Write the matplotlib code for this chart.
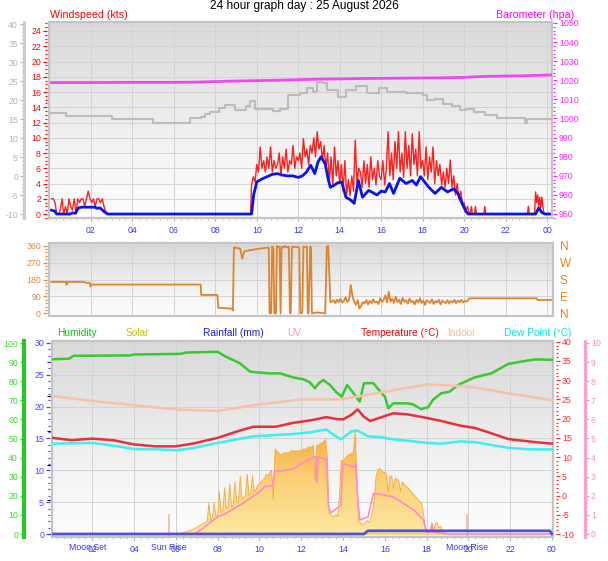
import numpy as np
import matplotlib
matplotlib.use("Agg")
import matplotlib.pyplot as plt
from matplotlib.colors import LinearSegmentedColormap
from matplotlib.patches import Rectangle, Polygon
from matplotlib.ticker import MultipleLocator

plt.rcParams['font.family'] = ['Liberation Sans', 'DejaVu Sans']
plt.rcParams['axes.unicode_minus'] = False

W, H = 608, 561
PT = 0.72  # points per pixel at 100 dpi

# ---------------- data (hours since midnight) ----------------
gust_early = [2, 2, 1.5, 0, 0, 0.5, 2, 0, 1, 0, 2, 1, 0.5, 2, 0, 2, 1.5, 2, 2, 1,
              2, 3, 2, 1.5, 2, 1, 2, 2, 1.5, 2, 1, 0.3, 0]
gust_day = [3.8, 4.9, 4.2,
            6.5, 5.5, 8.8, 6, 7, 5.5, 7.5, 6, 8.8, 5.5, 7, 6,
            6.5, 8, 5, 7.5, 6, 8.5, 5.5, 7, 6.5, 9, 6, 7.5,
            7, 8, 6, 9.9, 7.5, 8.5, 6.5, 9, 8, 10, 7.5, 10.8,
            8.5, 9.5, 7, 9, 6, 8, 4, 7.5, 3.8, 8.8, 5, 7,
            4, 6.5, 3, 7, 2.5, 4.5, 2.4, 5, 3, 9.7, 4, 6,
            5.5, 3.5, 7, 4, 6.5, 3.5, 7.5, 4.5, 6, 3.8, 7, 5,
            4.5, 7, 3.8, 6, 10.8, 5, 8, 4.5, 9.5, 6, 10.8, 5.5,
            8, 4.8, 10.8, 6, 9, 5, 10.5, 6.5, 8.5, 5, 10.8, 6,
            7, 5, 8.8, 4.5, 7.5, 5.5, 8.8, 4, 7, 5, 6.5, 3.8,
            5.5, 3.5, 6, 4, 7.1, 3.5, 5, 2.5, 4, 2, 3, 1.5,
            1.5, 0.5, 1, 0]
gust_tail_h = [20.3, 20.35, 20.4, 20.5, 20.55, 20.6, 20.95, 21.0, 21.05, 23.05, 23.1,
               23.15, 23.4, 23.45, 23.5, 23.55, 23.6, 23.65, 23.7, 23.75, 23.8, 23.85, 24.2]
gust_tail = [0, 1, 0, 0, 1, 0, 0, 1, 0, 0, 1, 0, 0, 2.9, 1.5, 2.5, 1.0, 2.2, 0.8, 2.2, 1.0, 0, 0]

avg_h = [0.1, 0.25, 0.35, 1.0, 1.1, 1.25, 1.4, 1.55, 2.2, 2.3, 2.45, 2.6, 2.8, 9.75, 9.85,
         10.0, 10.25, 10.5, 10.75, 11.0, 11.25, 11.5, 11.75, 12.0, 12.2, 12.4, 12.6, 12.8,
         12.95, 13.1, 13.3, 13.45, 13.55, 13.75, 13.9, 14.1, 14.3, 14.5, 14.7, 14.9, 15.1,
         15.4, 15.6, 15.8, 16.0, 16.2, 16.4, 16.6, 16.9, 17.2, 17.5, 17.7, 17.9, 18.1, 18.3,
         18.6, 18.9, 19.2, 19.5, 19.7, 19.9, 20.1, 20.2, 23.45, 23.6, 23.75, 23.9, 24.2]
avg_kts = [0.5, 0.4, 0, 0, 0.15, 0.1, 0.8, 0.9, 0.9, 0.75, 0.8, 0.4, 0, 0, 2.5,
           4.2, 4.6, 4.9, 5.2, 5.3, 5.1, 5.0, 5.0, 4.8, 5.0, 5.5, 6.4, 5.3,
           6.8, 7.5, 6.6, 4.5, 3.5, 3.8, 4.1, 4.2, 2.2, 1.9, 1.4, 4.4, 2.2,
           3.1, 2.8, 2.5, 3.0, 2.9, 4.0, 2.7, 4.7, 4.0, 4.4, 3.8, 4.9, 4.2, 3.5,
           2.7, 3.5, 2.9, 3.3, 2.7, 1.4, 0.3, 0, 0, 0.8, 0.2, 0, 0]

baro_h = [0.1, 2, 4, 6, 7, 8, 9, 10, 11, 12, 13, 14, 15, 16, 17, 18, 19, 20, 20.5, 21, 22, 23, 24.2]
baro_hpa = [1018.8, 1018.8, 1018.9, 1018.9, 1019.0, 1019.3, 1019.6, 1019.8, 1020.0, 1020.3,
            1020.6, 1020.7, 1020.9, 1021.0, 1021.1, 1021.2, 1021.3, 1021.5, 1021.8, 1022.0,
            1022.2, 1022.4, 1022.8]

grey_h = [0.1, 0.8, 3.0, 5.0, 6.8, 7.3, 7.5, 7.75, 8.2, 8.47, 8.95, 9.5, 9.67, 9.9, 10.8,
          11.1, 11.5, 12.1, 12.4, 12.7, 12.9, 13.2, 13.4, 13.9, 14.3, 14.8, 15.3, 15.9,
          16.3, 17.2, 18.0, 18.2, 18.6, 19.0, 19.4, 19.8, 20.1, 20.5, 21.0, 21.6, 22.95,
          23.05, 24.2]
grey_v = [16.7, 15.8, 15.0, 14.0, 15.3, 15.6, 16.2, 16.9, 17.8, 18.7, 17.4, 18.5, 19.8, 17.6,
          17.2, 17.6, 21.3, 21.8, 23.1, 22.0, 24.8, 24.6, 22.6, 20.9, 22.6, 23.7, 21.8, 23.1,
          22.0, 21.8, 21.3, 20.0, 20.2, 18.9, 18.4, 17.4, 17.7, 16.9, 16.0, 15.2, 14.0,
          15.0, 15.0]

# wind direction (degrees)
dir_early_h = [0.1, 0.8, 0.83, 0.88, 1.7, 1.75, 1.95, 1.98, 2.05, 7.3, 7.32, 8.1, 8.15,
               8.8, 8.85, 8.9, 9.2, 9.3, 9.4, 9.8, 10.2, 10.55]
dir_early = [167, 167, 152, 167, 167, 162, 162, 143, 153, 153, 98, 98, 30,
             25, 15, 350, 345, 290, 330, 338, 345, 350]
dir_osc_h = [10.58, 10.62, 10.7, 10.74, 10.8, 10.85, 10.93, 10.97, 11.1, 11.15, 11.2, 11.3,
             11.35, 11.45, 11.55, 11.6, 11.64, 11.7, 11.9, 12.05, 12.1, 12.2, 12.25, 12.3,
             12.42, 12.46, 12.5, 12.58, 12.62, 12.66, 12.9, 13.3, 13.38, 13.45, 13.55]
dir_osc = [350, 0, 2, 355, 350, 0, 0, 358, 352, 0, 355, 350,
           358, 350, 355, 0, 2, 355, 352, 350, 0, 3, 355, 352,
           355, 0, 0, 355, 350, 0, 5, 0, 355, 358, 60]
dir_pm = [62, 70, 55, 72, 60, 78, 58, 66, 85, 60, 72, 150,
          90, 62, 45, 70, 25, 40, 60, 52, 70, 48, 66, 55,
          75, 58, 62, 50, 80, 60, 72, 95, 58, 115, 62, 78,
          55, 88, 60, 72, 50, 82, 62, 70, 52, 78, 60, 66,
          48, 72, 58, 80, 55, 68, 45, 70, 62, 56, 74, 50,
          66, 58, 72, 48, 68, 60, 55, 70, 52, 66, 58, 72,
          55, 68, 60, 72, 58, 66, 62, 70]
dir_tail_h = [20.25, 23.5, 23.55, 24.3]
dir_tail = [80, 80, 71, 71]

# lower panel
hum_h = [0.1, 0.9, 1.1, 3.8, 4.0, 6.2, 6.5, 8.0, 8.4, 9.07, 9.55, 10.0, 10.5, 11.0, 11.6,
         12.1, 12.4, 12.66, 12.85, 13.06, 13.38, 13.7, 13.94, 14.2, 14.5, 14.8, 15.0, 15.45,
         15.85, 16.0, 16.17, 16.4, 17.1, 17.36, 17.75, 17.84, 18.07, 18.3, 18.7, 19.1, 19.5,
         20.3, 21.1, 21.9, 22.5, 23.2, 24.0]
hum_pct = [91.5, 91.8, 93.3, 93.5, 94.0, 94.3, 95.0, 95.4, 92.8, 89.4, 85.0, 84.5, 84.1, 84.1,
           82.0, 81.0, 79.5, 76.3, 79.0, 80.6, 78.0, 74.0, 71.9, 78.0, 73.7, 69.3, 78.9, 79.0,
           73.7, 72.0, 65.8, 68.4, 68.4, 67.8, 65.3, 65.8, 66.3, 70.2, 73.7, 74.5, 78.0,
           82.0, 84.1, 89.0, 90.2, 91.4, 91.2]

temp_h = [0.1, 1.0, 2.0, 3.0, 4.0, 5.0, 6.0, 6.8, 8.0, 9.0, 9.7, 10.8, 11.6, 12.5, 13.2, 13.7,
          14.0, 14.4, 14.7, 15.0, 15.3, 15.8, 16.4, 17.1, 18.0, 18.7, 19.6, 20.3, 21.1, 21.9,
          23.2, 24.0]
temp_c = [15.0, 14.4, 14.8, 14.4, 13.3, 12.8, 12.8, 13.5, 15.0, 16.8, 17.9, 17.9, 18.9, 19.6,
          20.4, 19.9, 19.8, 21.0, 22.4, 20.5, 19.4, 20.3, 21.4, 21.1, 20.2, 19.4, 18.2, 17.6,
          16.2, 14.7, 13.9, 13.5]

dew_h = [0.1, 2.0, 3.0, 4.0, 5.2, 6.0, 6.8, 8.0, 9.7, 11.6, 12.5, 13.2, 13.5, 13.9, 14.4, 14.7,
         15.2, 15.8, 16.4, 17.2, 18.0, 18.7, 19.6, 20.3, 21.9, 23.0, 24.0]
dew_c = [13.5, 13.7, 13.0, 12.1, 12.0, 11.8, 12.3, 13.7, 15.4, 16.0, 16.5, 17.2, 16.0, 14.6,
         16.7, 16.9, 15.4, 15.2, 14.6, 14.2, 13.7, 13.5, 14.1, 13.9, 12.4, 12.0, 12.0]

indoor_h = [0.1, 2.0, 4.0, 6.0, 8.0, 10.0, 12.0, 13.9, 15.8, 18.0, 19.6, 20.3, 21.9, 24.0]
indoor_c = [25.9, 24.6, 23.5, 22.4, 22.0, 23.7, 25.0, 25.0, 26.8, 28.9, 28.5, 28.1, 26.6, 24.8]

uv_h = [6.9, 7.3, 7.7, 8.0, 8.4, 8.8, 9.2, 9.6, 10.0, 10.3, 10.6, 10.75, 11.0, 11.6, 12.2,
        12.7, 12.75, 12.8, 13.2, 13.3, 13.4, 13.9, 14.0, 14.5, 14.6, 14.7, 14.8, 15.2, 15.45,
        15.7, 16.4, 17.4, 17.85, 18.0, 18.2, 18.25, 18.3, 19.0, 24.0]
uv_idx = [0, 0.3, 0.65, 0.9, 1.08, 1.35, 1.6, 1.9, 2.2, 2.5, 2.5, 3.3, 3.3, 3.4, 3.8,
          4.05, 2.7, 4.05, 3.9, 1.5, 1.1, 1.5, 3.7, 3.5, 3.7, 2.0, 0.73, 0.9, 2.1,
          2.1, 1.95, 1.25, 0.73, 0.1, 0.1, 0.5, 0.1, 0, 0]

# solar radiation (W/m2), 5 minute steps from 06:00 to 19:00
solar_w = [0, 0, 0, 7, 11, 14, 17, 21, 25, 28, 35, 42,
           49, 56, 63, 70, 77, 84, 91, 224, 98, 112, 224, 126,
           140, 308, 154, 168, 336, 182, 196, 364, 196, 210, 378, 224,
           238, 420, 252, 266, 280, 434, 280, 294, 420, 308, 322, 350,
           364, 378, 392, 406, 434, 420, 448, 462, 252, 616, 602, 588,
           574, 574, 588, 588, 588, 588, 602, 602, 602, 602, 602, 602,
           602, 616, 616, 616, 630, 630, 630, 644, 392, 644, 644, 658,
           658, 672, 686, 560, 154, 140, 126, 126, 140, 126, 280, 532,
           532, 546, 560, 574, 574, 588, 588, 742, 420, 84, 84, 70,
           70, 84, 98, 84, 112, 168, 252, 420, 462, 476, 462, 448,
           448, 434, 300, 420, 420, 330, 406, 392, 392, 310, 378, 364,
           350, 336, 322, 308, 294, 280, 266, 252, 238, 224, 168, 70,
           14, 28, 21, 84, 28, 70, 84, 42, 56, 28, 14, 7,
           0]

rain_h = [0.1, 15.0, 15.2, 23.9, 24.0]
rain_mm = [0, 0, 0.5, 0.5, 0]

events = {'Moon Set': 1.8, 'Sun Rise': 5.68, 'Moon Rise': 19.95}
hour_ticks = list(range(2, 25, 2))
hour_labels = [f'{h % 24:02d}' for h in hour_ticks]

gust_h = np.concatenate([np.linspace(0.1, 2.8, len(gust_early)), [9.7],
                         np.linspace(9.75, 20.25, len(gust_day)), gust_tail_h])
gust_kts = np.concatenate([gust_early, [0], gust_day, gust_tail])
dir_h = np.concatenate([dir_early_h, dir_osc_h, np.linspace(13.62, 20.2, len(dir_pm)), dir_tail_h])
dir_deg = np.concatenate([dir_early, dir_osc, dir_pm, dir_tail])
solar_h = np.linspace(6.0, 19.0, len(solar_w))

# ---------------- helpers ----------------
fig = plt.figure(figsize=(W / 100, H / 100), dpi=100)
fig.patch.set_facecolor('white')

bg_cmap = LinearSegmentedColormap.from_list('bg', ['#dadada', '#e2e2e2', '#ededed', '#f7f7f7', '#fdfdfd'])
sol_cmap = LinearSegmentedColormap.from_list('sol', ['#fde7a0', '#fbd27a', '#f6ae40'])
XCOL = '#3535ff'


def panel(l, t, r, b, xlim):
    ax = fig.add_axes([l / W, 1 - b / H, (r - l) / W, (b - t) / H])
    ax.imshow(np.linspace(0, 1, 256).reshape(-1, 1), cmap=bg_cmap, aspect='auto',
              extent=(0, 1, 0, 1), transform=ax.transAxes, zorder=0)
    ax.set_xlim(*xlim)
    for s in ax.spines.values():
        s.set_visible(False)
    ax.add_patch(Rectangle((0, 0), 1, 1, transform=ax.transAxes, fill=False,
                           ec='#c4c4c4', lw=1.6, zorder=6, clip_on=False))
    for h in hour_ticks:
        ax.axvline(h, color='#d2d2d2', lw=0.7, zorder=1)
    ax.tick_params(axis='y', which='both', left=False, labelleft=False)
    return ax


def yscale(ax, side, lim, major, minor, color, offset_px, spine=None):
    ax.set_ylim(*lim)
    for s in ax.spines.values():
        s.set_visible(False)
    sp = ax.spines[side]
    sp.set_position(('outward', offset_px * PT))
    if spine:
        sp.set_visible(True)
        sp.set_color(spine[0])
        sp.set_linewidth(spine[1])
    left = side == 'left'
    ax.tick_params(axis='y', which='both', left=left, labelleft=left,
                   right=not left, labelright=not left)
    ax.yaxis.set_major_locator(MultipleLocator(major))
    ax.yaxis.set_minor_locator(MultipleLocator(minor))
    ax.tick_params(axis='y', which='major', color=color, labelcolor=color, labelsize=6.3,
                   length=4 * PT, width=0.9, pad=2 * PT)
    ax.tick_params(axis='y', which='minor', color=color, length=2.5 * PT, width=0.9)


def xscale(ax):
    ax.set_xticks(hour_ticks, hour_labels)
    ax.xaxis.set_minor_locator(MultipleLocator(1 / 3))
    ax.tick_params(axis='x', which='major', length=2.5, color='#b0b0b0', labelcolor=XCOL,
                   labelsize=6.3, pad=3)
    ax.tick_params(axis='x', which='minor', length=1.3, color='#b8b8b8')


def hgrid(ax, fracs):
    for f in fracs:
        ax.plot([0, 1], [f, f], transform=ax.transAxes, color='#d4d4d4', lw=0.7, zorder=1)


# ---------------- top panel: wind & barometer ----------------
ax_w = panel(49, 22, 552, 218, (-0.02, 24.24))
yscale(ax_w, 'left', (-0.52, 25.18), 2, 0.5, '#ff0000', 2)
hgrid(ax_w, [(v + 0.52) / 25.7 for v in range(2, 25, 2)])
xscale(ax_w)
ax_w.plot(gust_h, gust_kts, color='#ff1e1e', lw=1.0, zorder=3)
ax_w.plot(avg_h, avg_kts, color='#0a14e6', lw=2.0, zorder=4)

ax_g = ax_w.twinx()
yscale(ax_g, 'left', (-11.05, 40.53), 5, 1, '#b4b4b4', 25, spine=('#c8c8c8', 2))
ax_g.plot(grey_h, grey_v, color='#bcbcbc', lw=1.5, drawstyle='steps-post')

ax_b = ax_w.twinx()
yscale(ax_b, 'right', (947.9, 1050.5), 10, 2, '#ff22ff', 1)
ax_b.plot(baro_h, baro_hpa, color='#f048f0', lw=2)

fig.text(304 / W, 1 - 6.5 / H, '24 hour graph day : 25 August 2026', ha='center', va='center',
         fontsize=8.6, color='black')
fig.text(50 / W, 1 - 14.5 / H, 'Windspeed (kts)', ha='left', va='center', fontsize=7.7, color='#ff0000')
fig.text(574 / W, 1 - 14.5 / H, 'Barometer (hpa)', ha='right', va='center', fontsize=7.7, color='#ff00ff')

# ---------------- middle panel: wind direction ----------------
ax_d = panel(49, 243, 553, 316, (-0.02, 24.29))
yscale(ax_d, 'left', (-14, 374), 90, 18, '#e0883a', 2)
hgrid(ax_d, [(v + 14) / 388 for v in (90, 180, 270, 360)])
ax_d.tick_params(axis='x', which='both', length=0, labelbottom=False)
ax_d.plot(dir_h, dir_deg, color='#dc8430', lw=1.3, zorder=3)

ax_c = ax_d.twinx()
ax_c.set_ylim(-14, 374)
ax_c.set_yticks([0, 90, 180, 270, 360], ['N', 'E', 'S', 'W', 'N'])
ax_c.tick_params(axis='y', length=0, labelsize=8.5, labelcolor='#e8801e', pad=5)
for s in ax_c.spines.values():
    s.set_visible(False)

# ---------------- bottom panel ----------------
ax_s = panel(51.5, 341, 553, 537, (0.05, 24.05))
hgrid(ax_s, [(v + 0.47) / 30.78 for v in range(5, 31, 5)])
xscale(ax_s)
im = ax_s.imshow(np.linspace(0, 1, 256).reshape(-1, 1), cmap=sol_cmap, origin='lower',
                 aspect='auto', extent=(5.9, 19.1, 0, 740), zorder=2)
poly = Polygon(np.column_stack([np.r_[solar_h[0], solar_h, solar_h[-1]],
                                np.r_[0, solar_w, 0]]), closed=True, fc='none', ec='none')
ax_s.add_patch(poly)
im.set_clip_path(poly)
ax_s.plot(solar_h, solar_w, color='#f4aa3c', lw=0.6, zorder=2)
ax_s.axhline(0, color='#f3d27a', lw=1.5, zorder=2)
ax_s.set_xlim(0.05, 24.05)
ax_s.set_ylim(-22, 1400)
for name, t in events.items():
    if name != 'Moon Set':
        ax_s.axvline(t, ymin=0, ymax=0.11, color='#f6b59a', lw=1.2, zorder=3)
    ax_s.text(t, -0.056, name, transform=ax_s.get_xaxis_transform(), ha='center', va='center',
              fontsize=6.3, color=XCOL)

ax_hum = ax_s.twinx()
yscale(ax_hum, 'left', (-1.57, 101.05), 10, 2, '#33dd22', 27.5, spine=('#22cc22', 3))
ax_hum.plot(hum_h, hum_pct, color='#39c832', lw=1.8)

ax_t = ax_s.twinx()
yscale(ax_t, 'right', (-10.78, 40.2), 5, 1, '#ff2a2a', 3)
ax_t.plot(indoor_h, indoor_c, color='#f6c3aa', lw=1.8)
ax_t.plot(temp_h, temp_c, color='#e8303c', lw=1.8)
ax_t.plot(dew_h, dew_c, color='#3cf0f0', lw=1.8)

ax_uv = ax_s.twinx()
yscale(ax_uv, 'right', (-0.157, 10.1), 1, 0.2, '#ff88cc', 32, spine=('#ff99cc', 2))
ax_uv.plot(uv_h, uv_idx, color='#ff8cc6', lw=1.2)

ax_r = ax_s.twinx()
yscale(ax_r, 'left', (-0.47, 30.31), 5, 1, '#4545ff', 1.5)
ax_r.plot(rain_h, rain_mm, color='#4f4fe0', lw=2)

headers = [('Humidity', 57, '#00cc00'), ('Solar', 126, '#c8c000'), ('Rainfall (mm)', 203, '#1a1aff'),
           ('UV', 287, '#ff99cc'), ('Temperature (°C)', 361, '#ff0000'), ('Indoor', 447, '#f5b8a0'),
           ('Dew Point (°C)', 504, '#00e8e8')]
for text, x, col in headers:
    fig.text(x / W, 1 - 333 / H, text, ha='left', va='center', fontsize=7.3, color=col)

fig.savefig('out.png', dpi=100)
